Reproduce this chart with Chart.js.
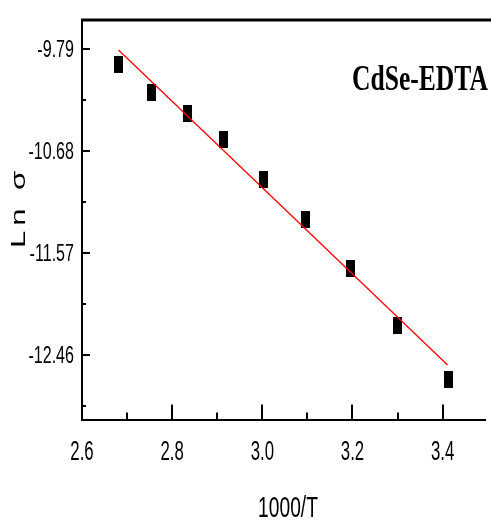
<!DOCTYPE html>
<html>
<head>
<meta charset="utf-8">
<script src="https://cdn.jsdelivr.net/npm/chart.js@4.4.1/dist/chart.umd.min.js"></script>
<style>
  html, body { margin: 0; padding: 0; background: #ffffff; }
  #wrap { width: 491px; height: 526px; }
</style>
</head>
<body>
<div id="wrap"><canvas id="c" width="491" height="526"></canvas></div>
<script>
// Measured points: 1000/T versus Ln sigma
const invT = [2.681, 2.755, 2.833, 2.915, 3.003, 3.096, 3.195, 3.300, 3.413];
const lnSigma = [-9.927, -10.169, -10.349, -10.582, -10.923, -11.274, -11.703, -12.204, -12.678];

// Linear fit endpoints
const fitX = [2.681, 3.411];
const fitY = [-9.796, -12.547];

// Axis ticks
const xMajor = [2.6, 2.8, 3.0, 3.2, 3.4];
const xMinor = [2.7, 2.9, 3.1, 3.3];
const xLabels = ['2.6', '2.8', '3.0', '3.2', '3.4'];
const yMajor = [-9.79, -10.68, -11.57, -12.46];
const yMinor = [-10.235, -11.125, -12.015, -12.905];
const yLabels = ['-9.79', '-10.68', '-11.57', '-12.46'];

const sampleLabel = 'CdSe-EDTA';
const xTitle = '1000/T';
const yTitle = 'Ln σ';

// Tall black block used as the point marker
function makeMarker(w, h) {
  const cv = document.createElement('canvas');
  cv.width = w; cv.height = h;
  const g = cv.getContext('2d');
  g.fillStyle = '#000000';
  g.fillRect(0, 0, w, h);
  return cv;
}
const marker = makeMarker(9, 17);

// Draw horizontally condensed text
function squeezed(ctx, text, x, y, font, sx, align, baseline, rotate, spacing) {
  ctx.save();
  ctx.translate(x, y);
  ctx.scale(sx, 1);
  if (rotate) ctx.rotate(-Math.PI / 2);
  ctx.font = font;
  ctx.fillStyle = '#000000';
  ctx.textAlign = align;
  ctx.textBaseline = baseline;
  if (spacing) ctx.letterSpacing = spacing;
  ctx.fillText(text, 0, 0);
  ctx.restore();
}

const frame = {
  id: 'frame',
  afterDraw(chart) {
    const ctx = chart.ctx;
    const a = chart.chartArea;
    const xs = chart.scales.x, ys = chart.scales.y;
    ctx.save();
    ctx.strokeStyle = '#000000';
    // top rule
    ctx.lineWidth = 3;
    ctx.beginPath();
    ctx.moveTo(a.left - 1, a.top);
    ctx.lineTo(chart.width, a.top);
    ctx.stroke();
    // inward ticks on x
    ctx.lineWidth = 2;
    ctx.beginPath();
    xMajor.forEach(v => { const p = Math.round(xs.getPixelForValue(v)); ctx.moveTo(p, a.bottom); ctx.lineTo(p, a.bottom - 15); });
    xMinor.forEach(v => { const p = Math.round(xs.getPixelForValue(v)); ctx.moveTo(p, a.bottom); ctx.lineTo(p, a.bottom - 7); });
    // inward ticks on y
    yMajor.forEach(v => { const p = Math.round(ys.getPixelForValue(v)); ctx.moveTo(a.left, p); ctx.lineTo(a.left + 8, p); });
    yMinor.forEach(v => { const p = Math.round(ys.getPixelForValue(v)); ctx.moveTo(a.left, p); ctx.lineTo(a.left + 4, p); });
    ctx.stroke();
    ctx.restore();

    // tick labels
    xMajor.forEach((v, i) => {
      squeezed(ctx, xLabels[i], xs.getPixelForValue(v), 452, '28px "Liberation Sans", Arial, sans-serif', 0.6, 'center', 'middle');
    });
    yMajor.forEach((v, i) => {
      squeezed(ctx, yLabels[i], 74, ys.getPixelForValue(v) + 1, '24px "Liberation Sans", Arial, sans-serif', 0.67, 'right', 'middle');
    });

    // axis titles
    squeezed(ctx, xTitle, 288, 509, '30px "Liberation Sans", Arial, sans-serif', 0.64, 'center', 'middle');
    squeezed(ctx, yTitle, 19, 207, '31px "Liberation Sans", Arial, sans-serif', 0.67, 'center', 'middle', true, '5px');

    // sample name
    squeezed(ctx, sampleLabel, 352, 81, 'bold 36px "Liberation Serif", "Times New Roman", serif', 0.71, 'left', 'middle');
  }
};

new Chart(document.getElementById('c'), {
  type: 'scatter',
  data: {
    datasets: [
      {
        label: 'fit',
        data: fitX.map((x, i) => ({ x: x, y: fitY[i] })),
        showLine: true,
        borderColor: '#ff0000',
        borderWidth: 1.3,
        pointRadius: 0,
        fill: false
      },
      {
        label: 'Ln σ',
        data: invT.map((x, i) => ({ x: x, y: lnSigma[i] })),
        pointStyle: marker,
        pointRadius: 5,
        showLine: false
      }
    ]
  },
  options: {
    responsive: false,
    devicePixelRatio: 1,
    animation: false,
    layout: { padding: { top: 20, right: 0, left: 0, bottom: 0 } },
    plugins: { legend: { display: false }, tooltip: { enabled: false } },
    scales: {
      x: {
        type: 'linear',
        min: 2.6,
        max: 3.494,
        grid: { display: false, drawTicks: false },
        border: { display: true, color: '#000000', width: 2 },
        ticks: { display: false },
        afterBuildTicks: s => { s.ticks = xMajor.map(v => ({ value: v })); },
        afterFit: s => { s.height = 106.5; }
      },
      y: {
        type: 'linear',
        min: -13.023,
        max: -9.534,
        grid: { display: false, drawTicks: false },
        border: { display: true, color: '#000000', width: 2 },
        ticks: { display: false },
        afterBuildTicks: s => { s.ticks = yMajor.map(v => ({ value: v })); },
        afterFit: s => { s.width = 82; }
      }
    }
  },
  plugins: [frame]
});
</script>
</body>
</html>
